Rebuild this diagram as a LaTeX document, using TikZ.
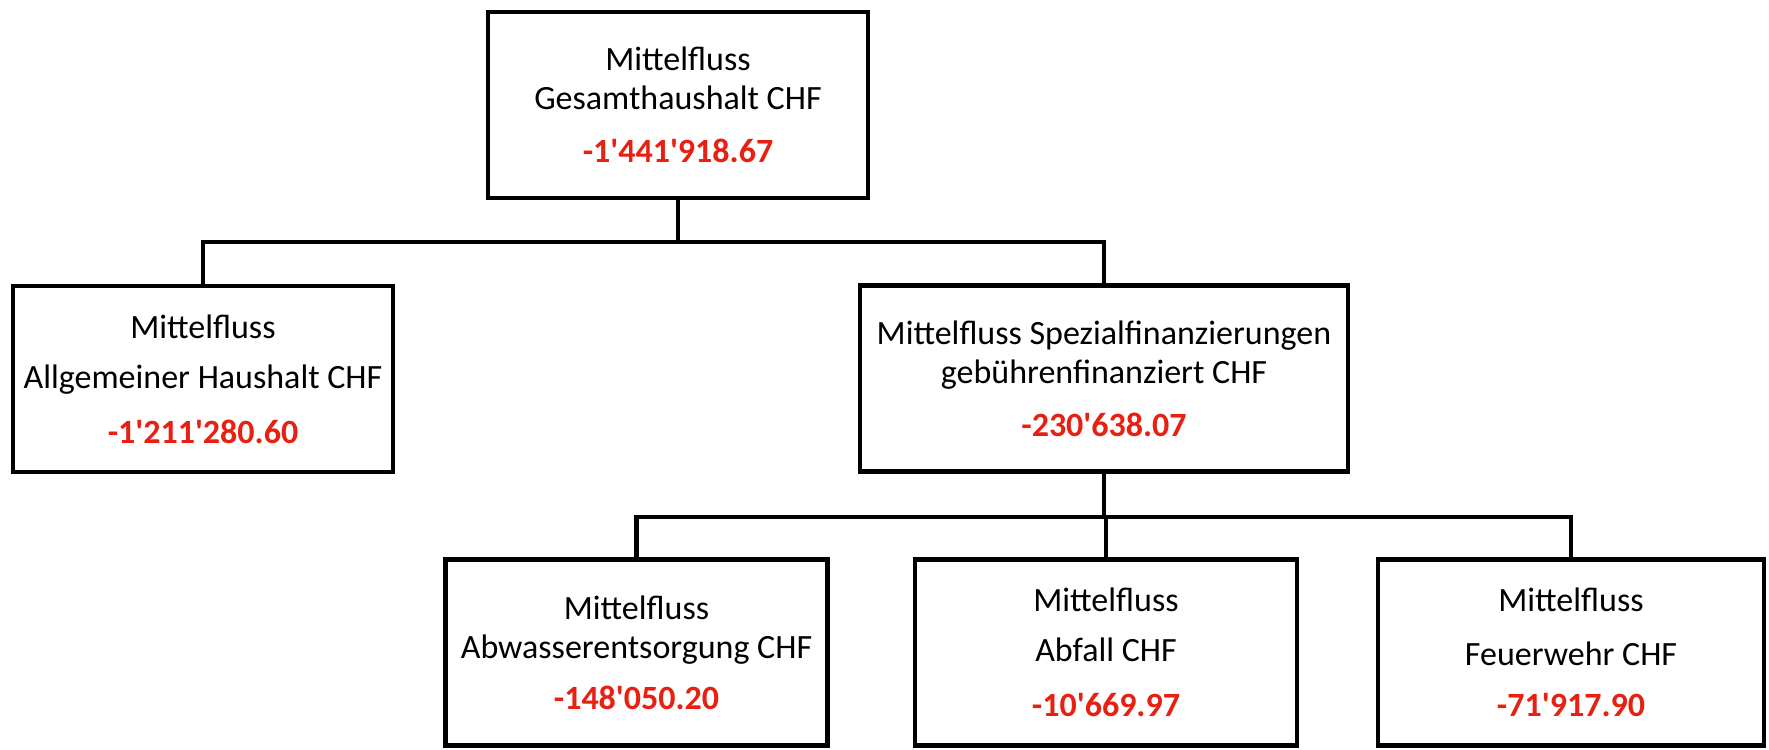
\documentclass[tikz,border=0pt]{standalone}
\usepackage{fontspec}
\setmainfont{Carlito}[Ligatures=TeXOff]
\usetikzlibrary{positioning}

\definecolor{betrag}{RGB}{232,32,18}

\tikzset{
    konto/.style={draw, line width=2.4pt, fill=white, align=center, inner sep=0pt,
        minimum height=93pt, font=\fontsize{17}{19.5}\selectfont},
    linie/.style={line width=2.3pt},
}
\newcommand{\betrag}[1]{\textcolor{betrag}{\bfseries #1}}

\begin{document}
\begin{tikzpicture}[x=0.5pt, y=-0.5pt]
    \useasboundingbox (0,0) rectangle (1769,750); % Rahmen

    % obere Ebene
    \node[konto, minimum width=190pt] (gesamt) at (678,105)
        {Mittelfluss\\Gesamthaushalt CHF\\[7pt]\betrag{-1'441'918.67}};

    % mittlere Ebene
    \node[konto, minimum width=190pt] (allg) at (203,379)
        {Mittelfluss\\[5.5pt]Allgemeiner Haushalt CHF\\[8pt]\betrag{-1'211'280.60}};
    \node[konto, minimum width=244pt] (spez) at (1104,378.5)
        {Mittelfluss Spezialfinanzierungen\\gebührenfinanziert CHF\\[7pt]\betrag{-230'638.07}};

    % untere Ebene
    \node[konto, minimum width=191pt] (abw) at (636.5,652.5)
        {Mittelfluss\\Abwasserentsorgung CHF\\[6pt]\betrag{-148'050.20}};
    \node[konto, minimum width=191pt] (abf) at (1106,652.5)
        {Mittelfluss\\[5.5pt]Abfall CHF\\[8pt]\betrag{-10'669.97}};
    \node[konto, minimum width=193pt] (feu) at (1571,652.5)
        {Mittelfluss\\[7.5pt]Feuerwehr CHF\\[6pt]\betrag{-71'917.90}};

    % Verbindungen
    \coordinate (knoten1) at (678,242);
    \coordinate (knoten2) at (1104,517);
    \draw[linie] (gesamt.south) -- (knoten1);
    \draw[linie] (allg.north) |- (knoten1) -| (spez.north);
    \draw[linie] (spez.south) -- (knoten2);
    \draw[linie] (abw.north) |- (knoten2) -| (feu.north);
    \draw[linie] (knoten2) -- (knoten2 -| abf.north) -- (abf.north);
\end{tikzpicture}
\end{document}
